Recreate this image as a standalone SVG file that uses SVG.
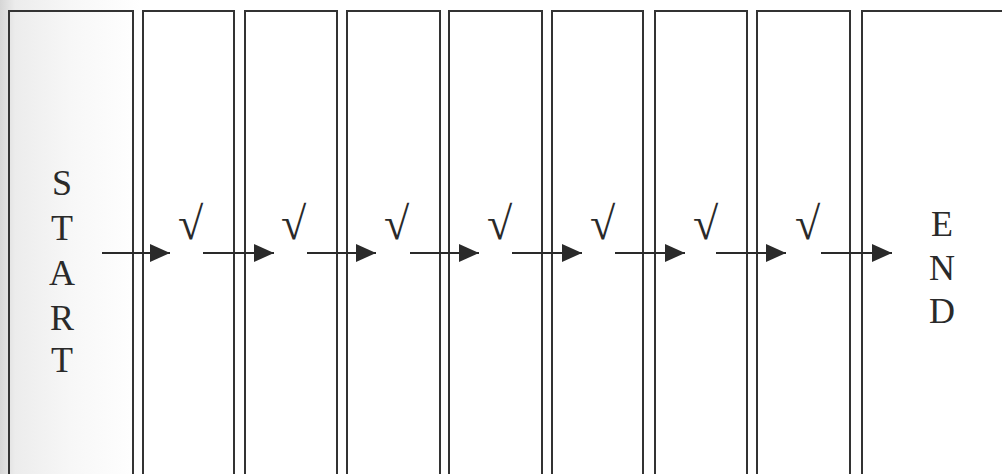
<svg xmlns="http://www.w3.org/2000/svg" width="1002" height="474" viewBox="0 0 1002 474">
  <defs>
    <linearGradient id="paper" x1="0" y1="0" x2="1" y2="0">
      <stop offset="0" stop-color="#d6d6d6"/>
      <stop offset="0.015" stop-color="#ececec"/>
      <stop offset="0.07" stop-color="#f7f7f7"/>
      <stop offset="0.14" stop-color="#ffffff"/>
      <stop offset="1" stop-color="#ffffff"/>
    </linearGradient>
    <marker id="arr" viewBox="0 0 20 18" refX="20" refY="9" markerWidth="20" markerHeight="18" markerUnits="userSpaceOnUse" orient="auto">
      <path d="M0,0 L20,9 L0,18 Z" fill="#2a2a2a"/>
    </marker>
    <style>
      .box { fill: none; stroke: #333; stroke-width: 2; }
      .lbl { font-family: "Liberation Serif", "Times New Roman", serif; font-size: 36px; fill: #2a2a2a; text-anchor: middle; }
      .chk { font-family: "Liberation Serif", "Times New Roman", serif; font-size: 46px; fill: #2a2a2a; }
      .conn { stroke: #2a2a2a; stroke-width: 2; fill: none; marker-end: url(#arr); }
    </style>
  </defs>
  <rect x="0" y="0" width="1002" height="474" fill="url(#paper)"/>

  <g id="start-node">
    <rect class="box" x="9" y="11" width="124" height="470"/>
    <text class="lbl" x="62" y="195">S</text>
    <text class="lbl" x="62" y="240">T</text>
    <text class="lbl" x="62" y="285">A</text>
    <text class="lbl" x="62" y="330">R</text>
    <text class="lbl" x="62" y="372">T</text>
  </g>
  <g id="step1"><rect class="box" x="143" y="11" width="91" height="470"/><text class="chk" x="178" y="239">√</text></g>
  <g id="step2"><rect class="box" x="245" y="11" width="92" height="470"/><text class="chk" x="281" y="239">√</text></g>
  <g id="step3"><rect class="box" x="347" y="11" width="93" height="470"/><text class="chk" x="384" y="239">√</text></g>
  <g id="step4"><rect class="box" x="449" y="11" width="93" height="470"/><text class="chk" x="487" y="239">√</text></g>
  <g id="step5"><rect class="box" x="552" y="11" width="91" height="470"/><text class="chk" x="590" y="239">√</text></g>
  <g id="step6"><rect class="box" x="655" y="11" width="92" height="470"/><text class="chk" x="693" y="239">√</text></g>
  <g id="step7"><rect class="box" x="757" y="11" width="93" height="470"/><text class="chk" x="795" y="239">√</text></g>
  <g id="end-node">
    <rect class="box" x="862" y="11" width="160" height="470"/>
    <text class="lbl" x="942" y="236">E</text>
    <text class="lbl" x="942" y="280">N</text>
    <text class="lbl" x="942" y="323">D</text>
  </g>

  <g id="connectors">
    <line class="conn" x1="102" y1="253" x2="170" y2="253"/>
    <line class="conn" x1="203" y1="253" x2="274" y2="253"/>
    <line class="conn" x1="307" y1="253" x2="376" y2="253"/>
    <line class="conn" x1="410" y1="253" x2="479" y2="253"/>
    <line class="conn" x1="512" y1="253" x2="582" y2="253"/>
    <line class="conn" x1="615" y1="253" x2="685" y2="253"/>
    <line class="conn" x1="716" y1="253" x2="786" y2="253"/>
    <line class="conn" x1="821" y1="253" x2="892" y2="253"/>
  </g>
</svg>
